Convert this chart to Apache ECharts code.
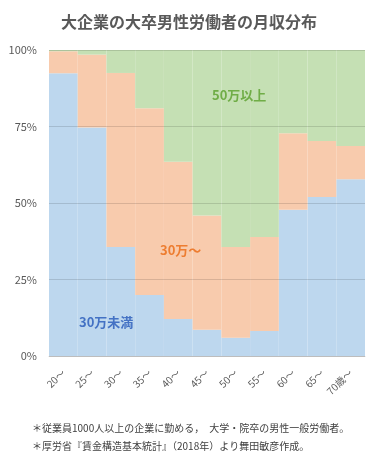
<!DOCTYPE html>
<html>
<head>
<meta charset="utf-8">
<title>大企業の大卒男性労働者の月収分布</title>
<script src="https://cdn.jsdelivr.net/npm/echarts@6/dist/echarts.min.js"></script>
<style>
  html, body { margin: 0; padding: 0; background: #fff; }
  #box { width: 378px; height: 463px; }
</style>
</head>
<body>
<div id="box"></div>
<script>
// 年齢階級
var ages = ['20～', '25～', '30～', '35～', '40～', '45～', '50～', '55～', '60～', '65～', '70歳～'];
// 構成比（%）
var under30 = [92.4, 74.7, 35.6, 19.9, 12.1, 8.6, 6.0, 8.2, 47.8, 52.0, 57.8];
var from30 = [7.2, 23.8, 56.9, 61.1, 51.4, 37.3, 29.6, 30.7, 25.0, 18.3, 10.8];
var over50 = [0.4, 1.5, 7.5, 19.0, 36.5, 54.1, 64.4, 61.1, 27.2, 29.7, 31.4];
var yTicks = [0, 25, 50, 75, 100];

var font = '"Noto Sans CJK JP", "Noto Sans", sans-serif';
var myChart = echarts.init(document.getElementById('box'));

var option = {
  animation: false,
  textStyle: { fontFamily: font },
  title: {
    text: '大企業の大卒男性労働者の月収分布',
    left: 'center',
    top: 9,
    textStyle: { fontSize: 16, fontWeight: 'bold', color: '#595959', fontFamily: font }
  },
  grid: { left: 49, right: 13, top: 50, bottom: 107 },
  xAxis: {
    type: 'category',
    data: ages,
    axisLine: { lineStyle: { color: '#d9d9d9' } },
    axisTick: { length: 4, lineStyle: { color: '#d9d9d9' } },
    axisLabel: { rotate: 45, fontSize: 10, color: '#595959', margin: 15, interval: 0 }
  },
  yAxis: {
    type: 'value',
    min: 0,
    max: 100,
    interval: 25,
    z: 5,
    axisLabel: {
      fontSize: 11,
      color: '#595959',
      margin: 12,
      formatter: function (v) { return yTicks.indexOf(v) >= 0 ? v + '%' : ''; }
    },
    axisLine: { show: false },
    axisTick: { show: false },
    splitLine: { lineStyle: { color: 'rgba(0,0,0,0.13)', width: 1 } }
  },
  series: [
    { name: '30万未満', type: 'bar', stack: 'a', barCategoryGap: '0%', data: under30,
      itemStyle: { color: '#bdd7ee' } },
    { name: '30万～', type: 'bar', stack: 'a', data: from30,
      itemStyle: { color: '#f8cbad' } },
    { name: '50万以上', type: 'bar', stack: 'a', data: over50,
      itemStyle: { color: '#c5e0b4' } }
  ],
  graphic: [
    { type: 'text', left: 212, top: 89, z: 10,
      style: { text: '50万以上', fill: '#70ad47', font: 'bold 13px ' + font } },
    { type: 'text', left: 160, top: 244, z: 10,
      style: { text: '30万～', fill: '#ed7d31', font: 'bold 13px ' + font } },
    { type: 'text', left: 79, top: 316, z: 10,
      style: { text: '30万未満', fill: '#4472c4', font: 'bold 13px ' + font } },
    { type: 'text', left: 32, top: 423,
      style: { text: '＊従業員1000人以上の企業に勤める，　大学・院卒の男性一般労働者。', fill: '#404040', font: '10px ' + font } },
    { type: 'text', left: 32, top: 441,
      style: { text: '＊厚労省『賃金構造基本統計』（2018年）より舞田敏彦作成。', fill: '#404040', font: '10px ' + font } }
  ]
};

myChart.setOption(option);
</script>
</body>
</html>
